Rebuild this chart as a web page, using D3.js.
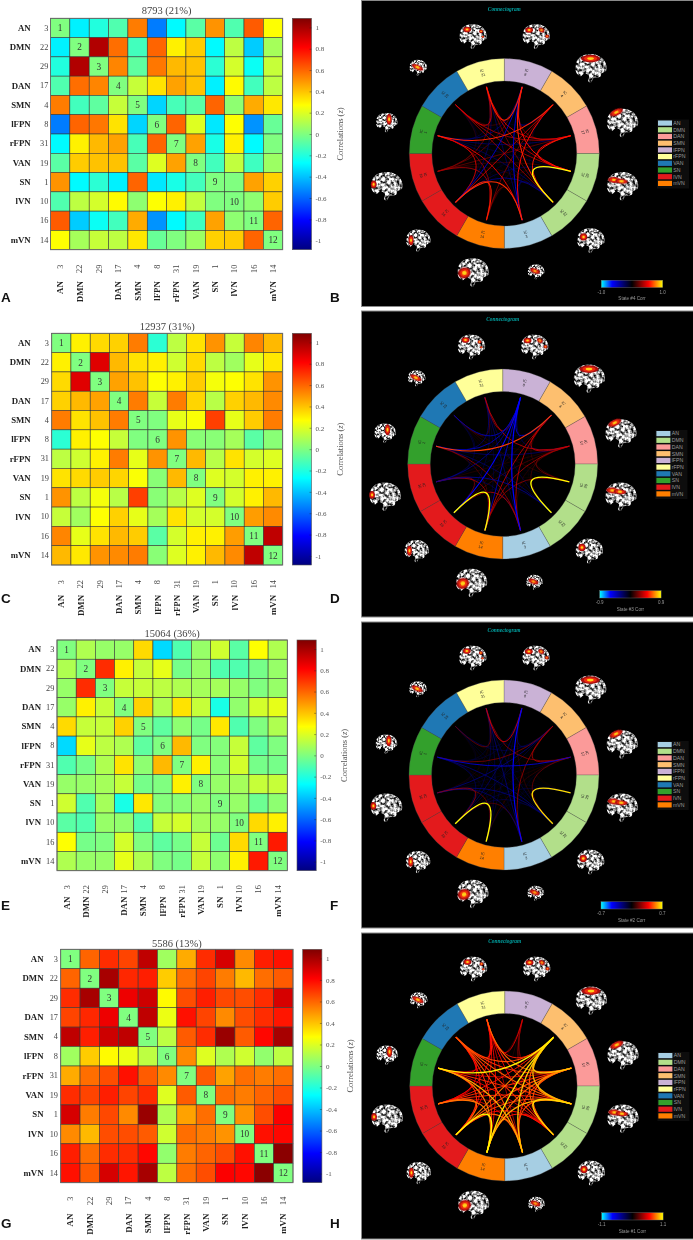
<!DOCTYPE html>
<html>
<head>
<meta charset="utf-8">
<script src="https://cdn.jsdelivr.net/npm/d3@7"></script>
<style>
  html, body { margin: 0; padding: 0; background: #fff; }
  svg { display: block; filter: blur(0.25px); }
  text { font-family: "Liberation Serif", serif; }
</style>
</head>
<body>
<div id="main-div"></div>
<script>
// components, in matrix order
var icLabels = ["3", "22", "29", "17", "4", "8", "31", "19", "1", "10", "16", "14"];
var netLabels = ["AN", "DMN", "", "DAN", "SMN", "lFPN", "rFPN", "VAN", "SN", "lVN", "", "mVN"];
var icNetwork = ["AN", "DMN", "DMN", "DAN", "SMN", "lFPN", "rFPN", "VAN", "SN", "lVN", "lVN", "mVN"];
var colorbarTicks = [-1, -0.8, -0.6, -0.4, -0.2, 0, 0.2, 0.4, 0.6, 0.8, 1];

// upper triangles (diagonal is 0)
var upperA = [
  [-0.3, -0.2, -0.1, 0.55, -0.55, -0.28, -0.08, 0.5, -0.1, 0.62, 0.27],
  [0.98, 0.58, -0.13, 0.6, 0.3, 0.38, -0.28, 0.13, -0.38, 0.08],
  [0.53, -0.07, 0.56, 0.42, 0.4, -0.18, 0.18, -0.25, 0.15],
  [0.15, 0.33, 0.47, 0.4, -0.3, 0.28, -0.13, 0.13],
  [-0.36, -0.12, -0.08, 0.6, 0.03, 0.45, 0.32],
  [0.6, 0.2, -0.32, 0.27, -0.5, -0.05],
  [0.47, -0.22, 0.3, -0.28, 0],
  [-0.13, 0.14, -0.14, 0.06],
  [0, 0.47, 0.37],
  [0.03, 0.38],
  [0.6]
];
var upperC = [
  [0.3, 0.35, 0.37, 0.55, -0.18, 0.13, 0.33, 0.5, 0.15, 0.53, 0.42],
  [0.88, 0.42, 0.33, 0.3, 0.17, 0.35, 0.13, 0.07, 0.22, 0.32],
  [0.47, 0.4, 0.27, 0.3, 0.38, 0.25, 0.27, 0.33, 0.5],
  [0.55, 0.15, 0.55, 0.36, 0.12, 0.37, 0.42, 0.52],
  [0, 0.22, 0.26, 0.68, 0.22, 0.38, 0.55],
  [0.5, 0.02, 0.02, 0.08, -0.08, 0.02],
  [0.42, 0.12, 0.33, 0.18, 0.2],
  [0.2, 0.18, 0.3, 0.3],
  [0.18, 0.3, 0.42],
  [0.48, 0.52],
  [0.95]
];
var upperE = [
  [0.1, 0.05, 0.05, 0.35, -0.35, -0.1, 0.05, 0.17, -0.08, 0.27, 0.1],
  [0.72, 0.3, 0.15, 0.22, -0.02, 0.05, -0.1, -0.1, -0.02, 0.05],
  [0.15, 0.15, 0.13, 0.1, 0.08, 0.08, 0.05, 0, 0.05],
  [0.37, 0.1, 0.33, 0.15, -0.22, 0.04, 0.18, 0.22],
  [-0.07, 0.03, -0.02, 0.32, -0.1, 0, 0.1],
  [0.42, 0, 0.01, 0.15, -0.07, 0],
  [0.3, 0.02, 0.18, -0.02, -0.02],
  [0.05, 0.08, 0.15, 0.15],
  [0.05, -0.04, 0.03],
  [0.35, 0.3],
  [0.76]
];
var upperG = [
  [0.6, 0.72, 0.67, 0.95, 0.07, 0.45, 0.72, 0.9, 0.52, 0.75, 0.78],
  [1.0, 0.73, 0.75, 0.38, 0.58, 0.67, 0.55, 0.42, 0.58, 0.62],
  [0.85, 0.92, 0.28, 0.65, 0.75, 0.66, 0.65, 0.72, 0.9],
  [0.95, 0.23, 0.78, 0.67, 0.52, 0.65, 0.72, 0.77],
  [0.13, 0.62, 0.72, 1.03, 0.62, 0.8, 1.0],
  [0.52, 0.2, 0.1, 0.17, 0.04, 0.13],
  [0.62, 0.47, 0.58, 0.55, 0.58],
  [0.58, 0.55, 0.6, 0.65],
  [0.5, 0.65, 0.82],
  [0.78, 0.8],
  [1.06]
];

// connectogram: components clockwise from 12 o'clock, as matrix indices
var ringOrder = [5, 4, 3, 2, 1, 0, 11, 10, 9, 8, 7, 6];
var legendNets = ["AN", "DMN", "DAN", "SMN", "lFPN", "rFPN", "VAN", "SN", "lVN", "mVN"];
var legendColors = ["#a6cee3", "#b2df8a", "#fb9a99", "#fdbf6f", "#cab2d6", "#ffff99", "#1f78b4", "#33a02c", "#e31a1c", "#ff7f00"];

var heatPanels = [
  { title: "8793 (21%)", upper: upperA, x0: 50.5, x1: 282.7, y0: 18.3, y1: 249.7, bar: 292.3, nameX: 30.7, numX: 48.3, numGap: 15, nameGap: 31.5, letter: "A", letterY: 302, titleY: 14.3 },
  { title: "12937 (31%)", upper: upperC, x0: 51.7, x1: 282.7, y0: 333.3, y1: 565, bar: 292.3, nameX: 30.7, numX: 49, numGap: 15, nameGap: 30, letter: "C", letterY: 603, titleY: 330 },
  { title: "15064 (36%)", upper: upperE, x0: 57, x1: 287.3, y0: 640, y1: 870.7, bar: 297, nameX: 41, numX: 54.3, numGap: 14.5, nameGap: 26, letter: "E", letterY: 910, titleY: 636.7 },
  { title: "5586 (13%)", upper: upperG, x0: 60.7, x1: 293, y0: 949.3, y1: 1182.7, bar: 302.7, nameX: 43.5, numX: 58, numGap: 14, nameGap: 31, letter: "G", letterY: 1228, titleY: 946.7 }
];
var ringPanels = [
  { upper: upperA, top: 0.5, h: 306, cx: 504.3, state: "State #4 Corr", lim: "1.0", mid: 0, max: 0.98, letter: "B", letterY: 302 },
  { upper: upperC, top: 311, h: 306, cx: 502.7, state: "State #3 Corr", lim: "0.9", mid: 0.3, max: 0.88, letter: "D", letterY: 603 },
  { upper: upperE, top: 622, h: 306, cx: 504, state: "State #2 Corr", lim: "0.7", mid: 0.12, max: 0.76, letter: "F", letterY: 910 },
  { upper: upperG, top: 933, h: 306, cx: 504.7, state: "State #1 Corr", lim: "1.1", mid: 0, max: 1.06, letter: "H", letterY: 1228 }
];

// brain thumbnails around the ring: width, then activation spots [x, y, rx, ry, rot]
var brainW = [28, 32, 32, 32, 28, 17, 32, 25, 32, 22, 18, 28];
var brainSpots = [
  [[-0.24, -0.2, 0.14, 0.1, 0], [0.2, -0.2, 0.11, 0.08, 30], [0.4, 0.02, 0.07, 0.06, 0]],
  [[0, -0.27, 0.3, 0.12, 0]],
  [[-0.18, -0.3, 0.22, 0.1, -25]],
  [[-0.25, -0.16, 0.2, 0.09, 5], [-0.02, -0.12, 0.2, 0.08, 5]],
  [[-0.25, -0.1, 0.13, 0.13, 0]],
  [[-0.05, -0.02, 0.3, 0.14, 20]],
  [[-0.26, 0.05, 0.2, 0.17, -15]],
  [[-0.28, 0.02, 0.1, 0.2, 0]],
  [[-0.4, -0.02, 0.09, 0.12, 0]],
  [[0.12, -0.12, 0.12, 0.25, 0]],
  [[-0.03, 0, 0.34, 0.14, 25]],
  [[-0.2, -0.22, 0.14, 0.1, 0], [0.3, -0.15, 0.07, 0.06, 0], [0.36, 0.04, 0.05, 0.04, 0]]
];
var brainOutline = [[-0.47, -0.02], [-0.42, -0.22], [-0.25, -0.36], [-0.02, -0.41], [0.22, -0.37], [0.42, -0.22], [0.5, -0.02], [0.47, 0.14], [0.34, 0.2], [0.3, 0.3], [0.1, 0.34], [0.01, 0.48], [-0.07, 0.44], [-0.05, 0.26], [-0.2, 0.2], [-0.32, 0.28], [-0.44, 0.18]];

var W = 693, H = 1240, nCells = 12, corrLim = 1.085;

function fillMatrix(upper) {
  var m = d3.range(nCells).map(function () { return d3.range(nCells).map(function () { return 0; }); });
  upper.forEach(function (row, i) {
    row.forEach(function (v, k) {
      m[i][i + 1 + k] = v;
      m[i + 1 + k][i] = v;
    });
  });
  return m;
}

// matlab jet
var jetStops = [-1, -0.75, -0.25, 0.25, 0.75, 1];
var jetColors = ["#00007f", "#0000ff", "#00ffff", "#ffff00", "#ff0000", "#7f0000"];
var jet = d3.scaleLinear()
  .domain(jetStops.map(function (d) { return d * corrLim; }))
  .range(jetColors)
  .clamp(true);

var hotcoldStops = [-1, -0.65, 0, 0.55, 1];
var hotcoldColors = ["#00ffff", "#0000ff", "#000000", "#ff0000", "#ffff00"];

var svg = d3.select("#main-div").append("svg")
  .attr("width", W).attr("height", H)
  .attr("viewBox", "0 0 " + W + " " + H);

var defs = svg.append("defs");

function addGradient(id, stops, colors, vertical, lo, hi) {
  var g = defs.append("linearGradient").attr("id", id)
    .attr("x1", 0).attr("x2", vertical ? 0 : 1)
    .attr("y1", vertical ? 1 : 0).attr("y2", 0);
  stops.forEach(function (s, i) {
    g.append("stop").attr("offset", (s - lo) / (hi - lo)).attr("stop-color", colors[i]);
  });
}
addGradient("jetGrad", jetStops, jetColors, true, -1, 1);
addGradient("hotGrad", hotcoldStops, hotcoldColors, false, -1, 1);

// mottled cortex texture for the brain thumbnails (filter runs in the scaled unit space)
var tex = defs.append("filter").attr("id", "cortex")
  .attr("x", "-10%").attr("y", "-10%").attr("width", "120%").attr("height", "120%")
  .attr("color-interpolation-filters", "sRGB");
tex.append("feTurbulence").attr("type", "fractalNoise").attr("baseFrequency", 11).attr("numOctaves", 2).attr("seed", 4).attr("result", "n");
tex.append("feColorMatrix").attr("in", "n").attr("type", "matrix")
  .attr("values", "2.6 0 0 0 -0.62  2.6 0 0 0 -0.62  2.6 0 0 0 -0.62  0 0 0 0 1").attr("result", "g");
tex.append("feComposite").attr("in", "g").attr("in2", "SourceAlpha").attr("operator", "in");
defs.append("filter").attr("id", "soft")
  .attr("x", "-40%").attr("y", "-40%").attr("width", "180%").attr("height", "180%")
  .append("feGaussianBlur").attr("stdDeviation", 0.02);

// ---------- heatmaps ----------
heatPanels.forEach(function (p) {
  var matrix = fillMatrix(p.upper);
  var g = svg.append("g");
  var x = d3.scaleBand().domain(d3.range(nCells)).range([p.x0, p.x1]);
  var y = d3.scaleBand().domain(d3.range(nCells)).range([p.y0, p.y1]);

  var cells = [];
  matrix.forEach(function (row, i) {
    row.forEach(function (v, j) { cells.push({ i: i, j: j, v: v }); });
  });

  g.selectAll("rect.cell").data(cells).enter().append("rect")
    .attr("class", "cell")
    .attr("x", function (d) { return x(d.j); })
    .attr("y", function (d) { return y(d.i); })
    .attr("width", x.bandwidth())
    .attr("height", y.bandwidth())
    .attr("fill", function (d) { return jet(d.v); })
    .attr("stroke", "#333")
    .attr("stroke-width", 0.55);

  g.append("rect")
    .attr("x", p.x0).attr("y", p.y0)
    .attr("width", p.x1 - p.x0).attr("height", p.y1 - p.y0)
    .attr("fill", "none").attr("stroke", "#6b6b6b").attr("stroke-width", 0.9);

  g.selectAll("text.diag").data(d3.range(nCells)).enter().append("text")
    .attr("class", "diag")
    .attr("x", function (d) { return x(d) + x.bandwidth() / 2; })
    .attr("y", function (d) { return y(d) + y.bandwidth() / 2; })
    .attr("dy", "0.35em")
    .attr("text-anchor", "middle")
    .attr("font-size", 9.3)
    .attr("fill", "#333")
    .text(function (d) { return d + 1; });

  g.append("text")
    .attr("x", (p.x0 + p.x1) / 2).attr("y", p.titleY)
    .attr("text-anchor", "middle").attr("font-size", 10.5).attr("fill", "#444")
    .text(p.title);

  // left labels
  var numAxis = d3.axisLeft(y).tickSize(0).tickPadding(0).tickFormat(function (i) { return icLabels[i]; });
  var nameAxis = d3.axisLeft(y).tickSize(0).tickPadding(0).tickFormat(function (i) { return netLabels[i]; });
  var gNum = g.append("g").attr("transform", "translate(" + p.numX + ",0)").call(numAxis);
  var gName = g.append("g").attr("transform", "translate(" + p.nameX + ",0)").call(nameAxis);
  gNum.selectAll("text").attr("font-size", 8.3).attr("fill", "#444").style("font-family", "Liberation Serif");
  gName.selectAll("text").attr("font-size", 8.8).attr("font-weight", "bold").attr("fill", "#222").style("font-family", "Liberation Serif");

  // bottom labels, rotated
  var bNum = g.append("g").attr("transform", "translate(0," + (p.y1 + p.numGap) + ")")
    .call(d3.axisBottom(x).tickSize(0).tickPadding(0).tickFormat(function (i) { return icLabels[i]; }));
  var bName = g.append("g").attr("transform", "translate(0," + (p.y1 + p.nameGap) + ")")
    .call(d3.axisBottom(x).tickSize(0).tickPadding(0).tickFormat(function (i) { return netLabels[i]; }));
  [bNum, bName].forEach(function (b, k) {
    b.selectAll("text")
      .attr("y", 0).attr("dy", "0.35em")
      .attr("transform", "rotate(-90)")
      .attr("text-anchor", "end")
      .attr("font-size", k ? 8.8 : 8.3)
      .attr("font-weight", k ? "bold" : "normal")
      .attr("fill", k ? "#222" : "#444")
      .style("font-family", "Liberation Serif");
  });
  [gNum, gName, bNum, bName].forEach(function (a) { a.select(".domain").remove(); });

  // colorbar
  var barW = 19.2;
  var cScale = d3.scaleLinear().domain([-corrLim, corrLim]).range([p.y1, p.y0]);
  g.append("rect")
    .attr("x", p.bar).attr("y", p.y0)
    .attr("width", barW).attr("height", p.y1 - p.y0)
    .attr("fill", "url(#jetGrad)").attr("stroke", "#555").attr("stroke-width", 0.6);
  var cAxis = g.append("g")
    .attr("transform", "translate(" + (p.bar + barW) + ",0)")
    .call(d3.axisRight(cScale).tickValues(colorbarTicks).tickSize(-2).tickPadding(4).tickFormat(String));
  cAxis.select(".domain").remove();
  cAxis.selectAll("line").attr("stroke", "#222").attr("stroke-width", 0.4);
  cAxis.selectAll("text").attr("font-size", 7).attr("fill", "#555").style("font-family", "Liberation Serif");

  var lab = g.append("text")
    .attr("transform", "translate(" + (p.bar + barW + 31) + "," + ((p.y0 + p.y1) / 2) + ") rotate(-90)")
    .attr("text-anchor", "middle").attr("font-size", 8.5).attr("fill", "#555");
  lab.append("tspan").text("Correlations (");
  lab.append("tspan").attr("font-style", "italic").text("z");
  lab.append("tspan").text(")");

  svg.append("text")
    .attr("x", 1).attr("y", p.letterY)
    .attr("font-size", 13.5).attr("font-weight", "bold").attr("fill", "#111")
    .style("font-family", "Liberation Sans")
    .text(p.letter);
});

// ---------- connectograms ----------
var rOuter = 95, rInner = 72.5, rLink = 69, rBrain = 122;
var angle = d3.scaleLinear().domain([0, nCells]).range([0, 2 * Math.PI]);
var brainLine = d3.line().curve(d3.curveCatmullRomClosed.alpha(0.5));

function midAngle(k) { return angle(k + 0.5); }
function polar(a, r) { return [r * Math.sin(a), -r * Math.cos(a)]; }

function drawBrain(g, k) {
  var w = brainW[k];
  var pos = polar(midAngle(k), rBrain);
  var b = g.append("g").attr("transform", "translate(" + pos[0] + "," + pos[1] + ") scale(" + w + ")");
  b.append("path")
    .attr("d", brainLine(brainOutline))
    .attr("fill", "#ccc")
    .attr("filter", "url(#cortex)");
  brainSpots[k].forEach(function (s) {
    var gs = b.append("g")
      .attr("filter", "url(#soft)")
      .attr("transform", "translate(" + s[0] + "," + s[1] + ") rotate(" + s[4] + ")");
    [[1, "#a80f0f"], [0.68, "#ee2a0c"], [0.35, "#ffd21a"]].forEach(function (c) {
      gs.append("ellipse").attr("rx", s[2] * c[0]).attr("ry", s[3] * c[0]).attr("fill", c[1]);
    });
  });
}

ringPanels.forEach(function (p) {
  var matrix = fillMatrix(p.upper);
  var cy = p.top + 153;
  var frame = svg.append("g");
  frame.append("rect")
    .attr("x", 361.5).attr("y", p.top)
    .attr("width", W - 361).attr("height", p.h)
    .attr("fill", "#000").attr("stroke", "#8a8a8a").attr("stroke-width", 1);

  var g = frame.append("g").attr("transform", "translate(" + p.cx + "," + cy + ")");

  g.append("text")
    .attr("y", -143).attr("text-anchor", "middle")
    .attr("font-size", 5.4).attr("font-style", "italic").attr("font-weight", "bold")
    .attr("fill", "#00a3a3")
    .text("Connectogram");

  // ring sectors
  var arc = d3.arc().innerRadius(rInner).outerRadius(rOuter);
  var netColor = d3.scaleOrdinal().domain(legendNets).range(legendColors);
  g.selectAll("path.sector").data(ringOrder).enter().append("path")
    .attr("class", "sector")
    .attr("d", function (d, k) { return arc({ startAngle: angle(k), endAngle: angle(k + 1) }); })
    .attr("fill", function (d) { return netColor(icNetwork[d]); })
    .attr("stroke", "#555")
    .attr("stroke-width", 0.3);

  ringOrder.forEach(function (d, k) {
    var a = midAngle(k);
    var deg = a * 180 / Math.PI;
    var pt = polar(a, (rInner + rOuter) / 2);
    var rot = (deg > 90 && deg < 270) ? deg + 180 : deg;
    var t = g.append("text")
      .attr("transform", "translate(" + pt[0] + "," + pt[1] + ") rotate(" + rot + ")")
      .attr("text-anchor", "middle")
      .attr("font-size", 3.8)
      .attr("fill", "#222")
      .style("font-family", "Liberation Sans");
    t.append("tspan").attr("x", 0).attr("dy", "-0.25em").text("IC");
    t.append("tspan").attr("x", 0).attr("dy", "1.15em").text(icLabels[d]);
  });

  // chords, weak ones underneath; links never go past plain blue
  var half = p.max - p.mid;
  var chordColor = d3.scaleLinear()
    .domain(hotcoldStops.slice(1).map(function (s) { return p.mid + s * half; }))
    .range(hotcoldColors.slice(1))
    .clamp(true);
  var chordWidth = d3.scaleLinear().domain([0, half]).range([0.4, 1.4]).clamp(true);
  var links = [];
  ringOrder.forEach(function (a, ka) {
    ringOrder.forEach(function (b, kb) {
      if (kb > ka) links.push({ ka: ka, kb: kb, v: matrix[a][b] });
    });
  });
  links.sort(function (l, m) { return Math.abs(l.v - p.mid) - Math.abs(m.v - p.mid); });
  g.selectAll("path.chord").data(links).enter().append("path")
    .attr("class", "chord")
    .attr("d", function (d) {
      var s = polar(midAngle(d.ka), rLink), e = polar(midAngle(d.kb), rLink);
      var path = d3.path();
      path.moveTo(s[0], s[1]);
      path.quadraticCurveTo(0, 0, e[0], e[1]);
      return path.toString();
    })
    .attr("fill", "none")
    .attr("stroke", function (d) { return chordColor(d.v); })
    .attr("stroke-width", function (d) { return chordWidth(Math.abs(d.v - p.mid)); });

  d3.range(nCells).forEach(function (k) { drawBrain(g, k); });

  // legend
  var leg = g.append("g").attr("transform", "translate(153.7,-33)");
  var legY = d3.scaleBand().domain(legendNets).range([0, 67]);
  leg.append("rect").attr("x", -1).attr("y", -1).attr("width", 32).attr("height", 69).attr("fill", "#0d0d0d");
  leg.selectAll("rect.sw").data(legendNets).enter().append("rect")
    .attr("class", "sw")
    .attr("x", 0)
    .attr("y", function (d) { return legY(d); })
    .attr("width", 14)
    .attr("height", 5.2)
    .attr("fill", function (d) { return netColor(d); });
  leg.selectAll("text").data(legendNets).enter().append("text")
    .attr("x", 15.3)
    .attr("y", function (d) { return legY(d) + 2.6; })
    .attr("dy", "0.35em")
    .attr("font-size", 5.2)
    .attr("fill", "#9a9a9a")
    .style("font-family", "Liberation Sans")
    .text(function (d) { return d; });

  // link colorbar
  var cb = g.append("g").attr("transform", "translate(97,126.7)");
  cb.append("rect").attr("width", 61.4).attr("height", 7.3)
    .attr("fill", "url(#hotGrad)").attr("stroke", "#777").attr("stroke-width", 0.4);
  [[0, "-" + p.lim], [61.4, p.lim]].forEach(function (t) {
    cb.append("text").attr("x", t[0]).attr("y", 13.5).attr("text-anchor", "middle")
      .attr("font-size", 4.5).attr("fill", "#999")
      .style("font-family", "Liberation Sans").text(t[1]);
  });
  cb.append("text").attr("x", 30.7).attr("y", 20).attr("text-anchor", "middle")
    .attr("font-size", 4.6).attr("fill", "#999")
    .style("font-family", "Liberation Sans").text(p.state);

  svg.append("text")
    .attr("x", 330).attr("y", p.letterY)
    .attr("font-size", 13.5).attr("font-weight", "bold").attr("fill", "#111")
    .style("font-family", "Liberation Sans")
    .text(p.letter);
});
</script>
</body>
</html>
